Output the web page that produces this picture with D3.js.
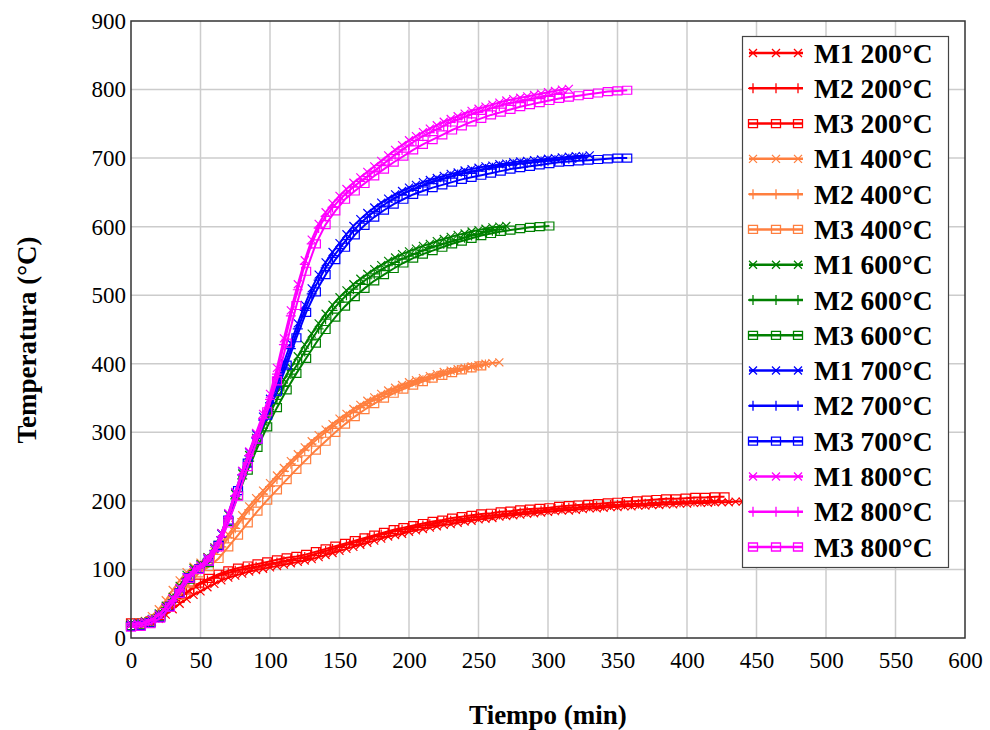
<!DOCTYPE html>
<html lang="es">
<head>
  <meta charset="utf-8">
  <title>Temperatura vs Tiempo</title>
  <script src="https://d3js.org/d3.v7.min.js"></script>
  <style>
    * { margin: 0; padding: 0; }
    html, body { background: #fff; }
    #chart { display: block; }
    .tick text { font-family: "Liberation Serif", "Times New Roman", serif; font-size: 23px; fill: #000; }
    .title { font-family: "Liberation Serif", "Times New Roman", serif; font-size: 27px; font-weight: bold; fill: #000; }
    .legend-text { font-family: "Liberation Serif", "Times New Roman", serif; font-size: 27.5px; font-weight: bold; fill: #000; }
  </style>
</head>
<body>
<svg id="chart" width="990" height="730"></svg>
<script>
// sampling intervals (min): M1/M2 logged every 5 min, M3 every 7 min
const stepM12 = 5;
const stepM3 = 7;

const xTicks = [0, 50, 100, 150, 200, 250, 300, 350, 400, 450, 500, 550, 600];
const yTicks = [0, 100, 200, 300, 400, 500, 600, 700, 800, 900];

// 200 ºC
const m1_200 = [20,20,21,23,28,34,42,50,57,63,68,74,79,84,88,91,94,97,99,101,103,105,107,109,111,113,115,118,121,124,127,130,133,136,139,142,145,148,150,152,155,157,159,161,163,165,166,168,170,171,173,174,175,177,178,179,180,181,182,183,184,185,186,186,187,188,189,189,190,191,191,192,192,193,193,194,194,195,195,196,196,197,197,197,198,198,198,199,199];
const m2_200 = [20,20,21,24,30,38,48,58,66,73,79,84,88,92,95,98,100,102,104,106,108,110,112,114,116,118,121,124,127,130,133,136,139,142,145,148,151,153,156,158,160,162,164,166,168,170,171,173,174,176,177,178,179,180,181,182,183,184,185,186,187,188,189,190,190,191,192,192,193,194,194,195,195,196,196,197,197,198,198,198,199,199,199,200,200];
const m3_200 = [22,22,25,33,45,58,70,80,87,93,98,102,105,108,111,114,117,119,122,126,130,134,138,142,146,150,154,158,161,164,167,170,172,175,177,179,181,182,184,185,187,188,189,190,192,193,194,195,196,197,198,199,200,201,202,203,203,204,205,205,206,206];

// 400 ºC
const m1_400 = [20,22,25,32,42,55,70,84,96,104,110,118,127,138,151,165,179,192,204,215,226,237,248,258,268,278,287,296,304,312,320,327,334,340,346,351,356,361,365,369,373,376,379,382,385,388,390,392,394,396,398,400,401,402];
const m2_400 = [20,21,23,27,35,45,58,72,87,98,105,113,122,133,146,160,174,187,199,210,221,232,243,254,264,274,283,292,300,308,316,323,330,336,342,347,352,357,361,365,369,373,376,379,382,385,388,391,393,395,397,399];
const m3_400 = [18,19,23,31,45,62,80,95,104,116,133,150,168,185,201,216,231,246,260,274,287,300,312,323,333,342,350,357,363,369,374,379,383,387,391,394,397];

// 600 ºC
const m1_600 = [21,22,24,28,36,47,60,76,92,102,108,118,132,153,180,210,240,267,292,316,338,358,377,395,411,428,444,459,473,486,497,507,516,524,531,538,544,550,555,560,564,568,572,575,579,582,585,588,590,593,595,597,599,600,601];
const m2_600 = [20,21,23,27,34,44,56,71,87,98,105,115,128,148,174,203,232,258,282,306,328,348,367,385,400,418,435,451,465,478,490,500,509,517,524,531,537,543,548,553,557,561,565,569,572,575,578,581,584,587,589,592,594,596];
const m3_600 = [18,19,23,31,46,65,86,100,110,135,170,208,245,278,308,336,362,386,408,430,450,468,484,498,510,521,530,539,547,554,560,565,570,575,579,583,587,590,593,595,597,599,600,601];

// 700 ºC
const m1_700 = [20,21,23,27,34,44,57,72,88,99,106,116,130,152,181,212,243,271,297,323,349,375,402,430,459,486,510,530,548,563,576,589,601,611,620,628,635,641,647,652,657,661,665,668,671,674,677,679,682,684,686,688,689,691,692,694,695,696,697,698,699,700,701,702,703,703,704];
const m2_700 = [19,20,22,26,33,43,55,70,86,97,104,114,127,148,176,207,238,266,292,318,343,368,394,422,451,478,502,522,540,555,568,581,594,605,614,622,629,636,642,647,652,656,660,664,667,670,673,676,678,680,682,684,686,688,690,691,692,693,694,695,696,697,698,699,700,701];
const m3_700 = [17,18,22,30,46,66,88,101,112,135,172,215,255,290,325,360,398,438,475,505,530,552,570,588,602,614,624,633,640,647,652,657,661,665,669,672,675,678,681,684,686,688,690,692,694,695,696,697,698,699,700,700];

// 800 ºC
const m1_800 = [20,21,23,27,34,45,58,73,89,99,106,117,131,153,182,213,244,272,299,327,356,394,437,478,516,551,581,604,621,634,645,655,664,672,680,688,696,704,712,719,726,732,738,743,748,753,757,761,765,769,772,775,778,781,784,786,788,790,792,794,796,798,800,801];
const m2_800 = [19,20,22,26,33,43,55,70,86,97,104,114,127,148,176,207,238,266,293,320,348,385,428,470,508,545,575,598,615,628,639,649,658,666,673,681,689,697,705,712,719,726,732,737,742,747,752,756,760,764,767,770,773,776,779,781,783,785,787,789,791,793,795];
const m3_800 = [16,17,21,29,45,65,87,100,112,133,168,207,250,290,330,375,430,485,535,575,603,623,640,652,663,674,684,694,703,712,720,727,734,741,747,753,758,763,767,771,775,778,781,784,787,789,791,793,795,797,798,799];

const seriesNames = ["M1 200°C","M2 200°C","M3 200°C","M1 400°C","M2 400°C","M3 400°C",
  "M1 600°C","M2 600°C","M3 600°C","M1 700°C","M2 700°C","M3 700°C",
  "M1 800°C","M2 800°C","M3 800°C"];
const seriesValues = [m1_200, m2_200, m3_200, m1_400, m2_400, m3_400,
  m1_600, m2_600, m3_600, m1_700, m2_700, m3_700, m1_800, m2_800, m3_800];
const tempColors = ["#ff0000", "#ff7f3f", "#008000", "#0000ff", "#ff00ff"];
const markerKinds = ["times", "plus", "square"];

(function () {
  const series = seriesValues.map((vals, i) => {
    const kind = markerKinds[i % 3];
    const step = kind === "square" ? stepM3 : stepM12;
    return {
      name: seriesNames[i],
      color: tempColors[Math.floor(i / 3)],
      kind: kind,
      points: vals.map((v, j) => ({ t: j * step, v: v }))
    };
  });

  const svg = d3.select("#chart");
  const pL = 131, pR = 965, pT = 21, pB = 638;

  const x = d3.scaleLinear().domain([0, 600]).range([pL, pR]);
  const y = d3.scaleLinear().domain([0, 900]).range([pB, pT]);

  // grid
  svg.append("g").selectAll("line")
    .data(xTicks.slice(1, -1)).join("line")
    .attr("x1", d => x(d)).attr("x2", d => x(d))
    .attr("y1", pT).attr("y2", pB)
    .attr("stroke", "#cccccc").attr("stroke-width", 1.5);
  svg.append("g").selectAll("line")
    .data(yTicks.slice(1, -1)).join("line")
    .attr("x1", pL).attr("x2", pR)
    .attr("y1", d => y(d)).attr("y2", d => y(d))
    .attr("stroke", "#cccccc").attr("stroke-width", 1.5);

  // axes (labels only)
  const gx = svg.append("g").attr("transform", `translate(0,${pB})`)
    .call(d3.axisBottom(x).tickValues(xTicks).tickSize(0).tickPadding(14));
  gx.select(".domain").remove();
  const gy = svg.append("g").attr("transform", `translate(${pL},0)`)
    .call(d3.axisLeft(y).tickValues(yTicks).tickSize(0).tickPadding(5));
  gy.select(".domain").remove();

  function markerPath(kind, cx, cy) {
    if (kind === "times") {
      const r = 4;
      return `M${cx - r},${cy - r}L${cx + r},${cy + r}M${cx - r},${cy + r}L${cx + r},${cy - r}`;
    }
    if (kind === "plus") {
      const r = 5;
      return `M${cx - r},${cy}L${cx + r},${cy}M${cx},${cy - r}L${cx},${cy + r}`;
    }
    const w = 4.5, h = 4;
    return `M${cx - w},${cy - h}H${cx + w}V${cy + h}H${cx - w}Z`;
  }

  const line = d3.line().x(d => x(d.t)).y(d => y(d.v));
  const plot = svg.append("g");
  series.forEach(s => {
    const g = plot.append("g");
    g.append("path").datum(s.points)
      .attr("d", line).attr("fill", "none")
      .attr("stroke", s.color).attr("stroke-width", 2);
    g.append("path")
      .attr("d", s.points.map(p => markerPath(s.kind, x(p.t), y(p.v))).join(""))
      .attr("fill", "none").attr("stroke", s.color).attr("stroke-width", 1.2);
  });

  // frame
  svg.append("rect")
    .attr("x", pL).attr("y", pT)
    .attr("width", pR - pL).attr("height", pB - pT)
    .attr("fill", "none").attr("stroke", "#333").attr("stroke-width", 1.5);

  // titles
  svg.append("text").attr("class", "title")
    .attr("x", (pL + pR) / 2).attr("y", 724)
    .attr("text-anchor", "middle").text("Tiempo (min)");
  svg.append("text").attr("class", "title")
    .attr("transform", "translate(36,340) rotate(-90)")
    .attr("text-anchor", "middle").text("Temperatura (°C)");

  // legend
  const lg = svg.append("g");
  lg.append("rect")
    .attr("x", 742.5).attr("y", 36.5).attr("width", 206).attr("height", 531)
    .attr("fill", "#fff").attr("stroke", "#444").attr("stroke-width", 1.2);
  const rowY = d3.scaleLinear().domain([0, 14]).range([53, 547]);
  series.forEach((s, i) => {
    const cy = rowY(i);
    lg.append("line")
      .attr("x1", 749).attr("x2", 803).attr("y1", cy).attr("y2", cy)
      .attr("stroke", s.color).attr("stroke-width", 2.5);
    lg.append("path")
      .attr("d", [753, 776, 798].map(cx => markerPath(s.kind, cx, cy)).join(""))
      .attr("fill", "none").attr("stroke", s.color).attr("stroke-width", 1.3);
    lg.append("text").attr("class", "legend-text")
      .attr("x", 814).attr("y", cy).attr("dy", "0.35em")
      .text(s.name);
  });
})();
</script>
</body>
</html>
